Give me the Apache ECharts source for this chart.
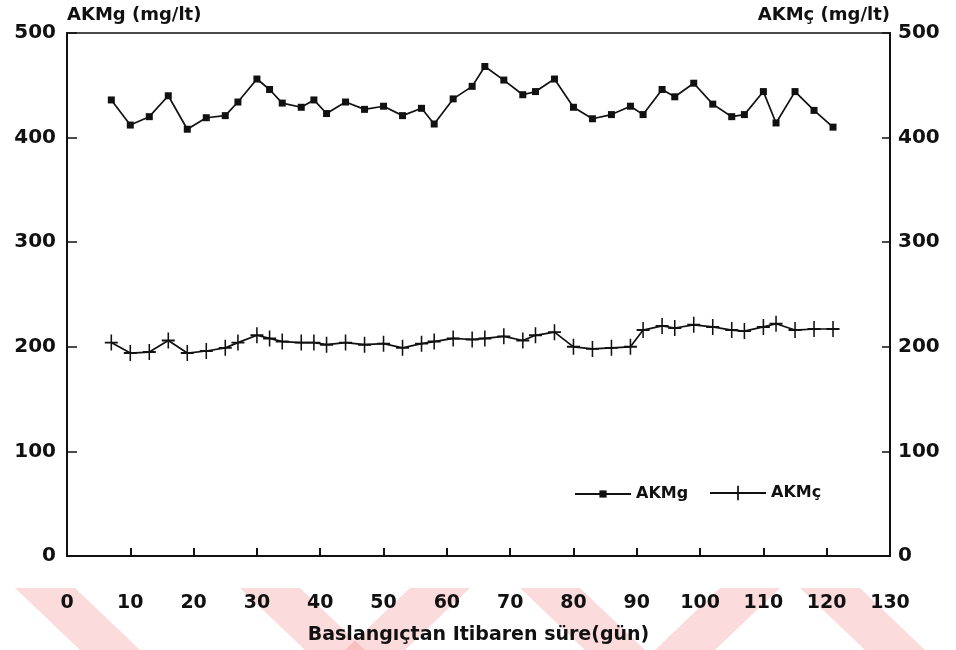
<!DOCTYPE html>
<html>
<head>
<meta charset="utf-8">
<script src="https://cdn.jsdelivr.net/npm/echarts@6/dist/echarts.min.js"></script>
<style>html,body{margin:0;padding:0;background:#fff;}#c{width:956px;height:650px;}</style>
</head>
<body>
<div id="c"></div>
<script>
// Days since start (gün)
var days = [7,10,13,16,19,22,25,27,30,32,34,37,39,41,44,47,50,53,56,58,61,64,66,69,72,74,77,80,83,86,89,91,94,96,99,102,105,107,110,112,115,118,121];
// AKMg (mg/lt)
var akmg = [436,412,420,440,408,419,421,434,456,446,433,429,436,423,434,427,430,421,428,413,437,449,468,455,441,444,456,429,418,422,430,422,446,439,452,432,420,422,444,414,444,426,410];
// AKMç (mg/lt)
var akmc = [204,194,195,206,194,196,199,204,211,208,205,204,204,202,204,202,203,199,203,205,208,207,208,210,206,211,214,200,198,199,200,216,220,218,221,219,216,215,219,222,216,217,217];
var xTicks = {min:0, max:130, interval:10};
var yTicks = {min:0, max:500, interval:100};

var FF = '"DejaVu Sans", "Liberation Sans", Arial, sans-serif';
function pairs(xs, ys){ return xs.map(function(x,i){ return [x, ys[i]]; }); }
var plusPath = 'path://M4.4,0H5.6V4.4H10V5.6H5.6V10H4.4V5.6H0V4.4H4.4Z';
var legendText = {fontFamily:FF,fontWeight:'bold',fontSize:16,color:'#111'};

var chart = echarts.init(document.getElementById('c'));
var wm = 'rgba(235,90,90,0.22)';
chart.setOption({
  animation:false,
  backgroundColor:'#fff',
  grid:{left:67,right:66,top:33,bottom:88,show:true,borderColor:'#111',borderWidth:1.5},
  graphic:[
    {type:'polygon',shape:{points:[[15,588],[75,588],[140,650],[80,650]]},style:{fill:wm},silent:true},
    {type:'polygon',shape:{points:[[240,588],[300,588],[365,650],[305,650]]},style:{fill:wm},silent:true},
    {type:'polygon',shape:{points:[[410,588],[470,588],[405,650],[345,650]]},style:{fill:wm},silent:true},
    {type:'polygon',shape:{points:[[520,588],[580,588],[645,650],[585,650]]},style:{fill:wm},silent:true},
    {type:'polygon',shape:{points:[[720,588],[780,588],[715,650],[655,650]]},style:{fill:wm},silent:true},
    {type:'polygon',shape:{points:[[800,588],[860,588],[925,650],[865,650]]},style:{fill:wm},silent:true}
  ],
  legend:[{
    left:569, top:481, itemWidth:56, itemHeight:9, itemGap:6,
    textStyle:legendText, data:['AKMg']
  },{
    left:704, top:480, itemWidth:56, itemHeight:18, itemGap:6,
    textStyle:legendText, data:['AKMç']
  }],
  xAxis:{
    type:'value', min:xTicks.min, max:xTicks.max, interval:xTicks.interval,
    name:'Baslangıçtan Itibaren süre(gün)', nameLocation:'middle', nameGap:70,
    nameTextStyle:{fontFamily:FF,fontWeight:'bold',fontSize:19,color:'#111'},
    axisLine:{onZero:false,lineStyle:{color:'#111',width:2}},
    axisTick:{inside:true,length:8,lineStyle:{color:'#111',width:2}},
    axisLabel:{margin:38,fontFamily:FF,fontWeight:'bold',fontSize:19,color:'#111'},
    splitLine:{show:false}
  },
  yAxis:[{
    type:'value', position:'left', min:yTicks.min, max:yTicks.max, interval:yTicks.interval,
    name:'AKMg (mg/lt)', nameLocation:'end', nameGap:9,
    nameTextStyle:{fontFamily:FF,fontWeight:'bold',fontSize:18,color:'#111',align:'left'},
    axisLine:{show:true,lineStyle:{color:'#111',width:2}},
    axisTick:{show:true,inside:true,length:10,lineStyle:{color:'#111',width:1.5}},
    axisLabel:{margin:11,fontFamily:FF,fontWeight:'bold',fontSize:20,color:'#111'},
    splitLine:{show:false}
  },{
    type:'value', position:'right', min:yTicks.min, max:yTicks.max, interval:yTicks.interval,
    name:'AKMç (mg/lt)', nameLocation:'end', nameGap:9,
    nameTextStyle:{fontFamily:FF,fontWeight:'bold',fontSize:18,color:'#111',align:'right'},
    axisLine:{show:true,lineStyle:{color:'#111',width:2}},
    axisTick:{show:true,inside:true,length:8,lineStyle:{color:'#111',width:1.5}},
    axisLabel:{margin:8,fontFamily:FF,fontWeight:'bold',fontSize:20,color:'#111'},
    splitLine:{show:false}
  }],
  series:[{
    name:'AKMg', type:'line', yAxisIndex:0, data:pairs(days,akmg),
    symbol:'rect', symbolSize:7,
    lineStyle:{color:'#111',width:1.7}, itemStyle:{color:'#111'}
  },{
    name:'AKMç', type:'line', yAxisIndex:1, data:pairs(days,akmc),
    symbol:plusPath, symbolSize:[13,16], symbolKeepAspect:false,
    lineStyle:{color:'#111',width:1.7}, itemStyle:{color:'#111'}
  }]
});
</script>
</body>
</html>
